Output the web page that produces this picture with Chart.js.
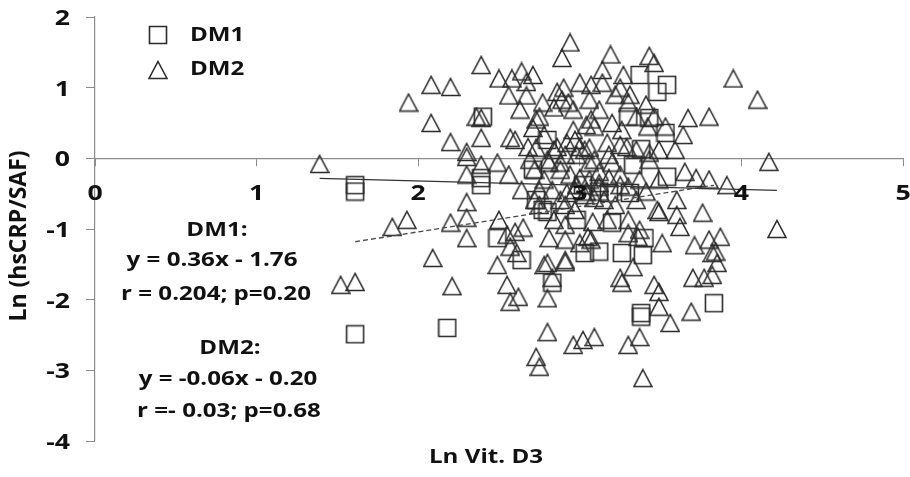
<!DOCTYPE html>
<html>
<head>
<meta charset="utf-8">
<script src="https://cdn.jsdelivr.net/npm/chart.js@4"></script>
<style>
html, body { margin: 0; padding: 0; background: #fff; }
#wrap { width: 910px; height: 477px; }
</style>
</head>
<body>
<div id="wrap"><canvas id="scatterChart"></canvas></div>
<script>
// DM1 (squares)
const dm1X = [1.61, 1.61, 1.61, 2.18, 2.40, 2.39, 2.39, 2.73, 2.77, 2.80, 2.80, 2.71, 2.49, 2.64, 2.83, 3.37, 3.48, 3.54, 3.30, 3.43,
              3.53, 3.38, 3.33, 3.54, 3.31, 3.18, 3.12, 3.02, 2.98, 3.20, 3.40, 3.03, 3.12, 3.26, 3.39, 3.38, 3.38, 3.83];
const dm1Y = [-0.38, -0.47, -2.49, -2.40, 0.59, -0.28, -0.38, -0.59, -0.73, -0.76, 0.26, -0.16, -1.13, -1.44, -1.76, 1.18, 0.94, 1.04, 0.59, 0.57,
              0.36, 0.13, -0.09, -0.26, -0.49, -0.49, -0.47, -0.38, -0.87, -0.91, -1.13, -1.34, -1.32, -1.34, -1.37, -2.19, -2.24, -2.05];

// DM2 (triangles)
const dm2X = [1.39, 1.84, 1.93, 2.20, 2.09, 1.52, 1.61, 2.21, 1.94, 2.08, 2.20, 2.08, 2.20, 2.39, 2.50, 2.58, 2.64, 2.71, 2.67, 2.56,
              2.67, 2.94, 2.89, 2.77, 2.86, 2.90, 2.89, 2.93, 2.96, 2.84, 2.36, 2.39, 2.39, 2.57, 2.60, 2.73, 2.75, 2.71, 2.68, 2.73,
              2.86, 2.92, 2.96, 2.30, 3.19, 3.43, 3.46, 3.14, 3.00, 3.07, 3.14, 3.27, 3.25, 3.31, 3.30, 3.41, 3.07, 3.04, 3.09, 3.20,
              3.26, 3.35, 3.46, 3.42, 3.53, 3.64, 3.67, 3.80, 3.00, 3.06, 3.17, 3.25, 3.29, 3.35, 3.43, 3.18, 2.30, 2.39, 2.49, 2.30,
              2.56, 2.64, 2.72, 2.75, 2.88, 2.92, 2.30, 2.30, 2.30, 2.50, 2.55, 2.60, 2.65, 2.57, 2.61, 2.81, 2.91, 2.80, 2.91, 2.69,
              2.81, 2.88, 2.72, 2.75, 2.49, 3.20, 3.43, 3.06, 2.98, 3.65, 3.72, 3.80, 3.49, 3.30, 3.41, 3.12, 3.04, 2.98, 3.60, 3.49,
              3.60, 3.76, 3.62, 3.08, 3.17, 3.30, 3.37, 3.51, 3.71, 3.05, 3.07, 3.00, 3.30, 3.36, 3.82, 3.80, 2.55, 2.62, 2.57, 2.80,
              2.78, 2.91, 2.83, 2.80, 2.73, 2.75, 2.96, 3.02, 3.09, 3.30, 3.37, 3.39, 3.25, 3.26, 3.33, 3.46, 3.49, 3.49, 3.56, 3.69,
              3.70, 3.77, 3.82, 4.22, 3.87, 3.84, 3.85, 3.95, 4.10, 4.17, 3.91, 3.48, 2.97, 3.03, 3.09, 2.88, 2.94, 3.00, 3.06, 3.12,
              3.18, 3.25, 2.97, 3.03, 3.09, 3.15, 3.22, 2.91, 2.97, 2.84, 2.91, 2.78, 2.83, 3.12, 3.25, 3.37, 3.35, 2.84, 2.91, 2.80,
              2.78, 2.63, 3.12, 3.22, 3.49, 3.59, 3.06];
const dm2Y = [-0.08, -0.97, -0.87, -0.91, -1.41, -1.79, -1.75, -1.81, 0.79, 1.04, 1.01, 0.50, 0.23, 1.32, 1.13, 1.13, 1.23, 1.18, 1.08, 0.89,
              0.89, 1.64, 1.42, 0.79, 0.94, 1.00, 0.83, 0.79, 0.69, 0.72, 0.59, 0.57, 0.29, 0.29, 0.26, 0.55, 0.59, 0.43, 0.16, 0.15,
              0.16, 0.22, 0.40, 0.09, 1.47, 1.45, 1.35, 1.25, 1.07, 1.04, 1.07, 1.18, 1.00, 0.90, 0.79, 0.76, 0.55, 0.47, 0.45, 0.50,
              0.40, 0.59, 0.59, 0.45, 0.45, 0.33, 0.57, 0.59, 0.16, 0.15, 0.22, 0.19, 0.16, 0.12, 0.08, 0.05, 0.02, -0.09, -0.06, -0.23,
              -0.23, -0.45, -0.59, -0.66, -0.59, -0.49, -0.62, -0.84, -1.13, -0.87, -1.08, -1.04, -0.98, -1.25, -1.34, -1.13, -1.15, -1.48, -1.44, -0.02,
              -0.06, -0.06, -0.16, -0.45, -1.51, -0.06, -0.02, -0.06, 0.05, -0.19, -0.28, -0.30, -0.30, -0.40, -0.47, -0.40, -0.47, -0.38, -0.59, -0.76,
              -0.80, -0.77, -0.97, -0.90, -0.87, -0.87, -1.01, -1.20, -1.23, -1.11, -1.15, -1.20, -1.06, -1.11, -1.34, -1.15, -1.79, -1.96, -2.03, -1.98,
              -1.51, -1.47, -1.69, -2.46, -2.81, -2.95, -2.64, -2.57, -2.53, -2.64, -2.53, -3.11, -1.69, -1.76, -1.54, -1.79, -1.89, -2.10, -2.33, -2.17,
              -1.69, -1.69, -1.65, -1.00, -1.11, -1.32, -1.48, 1.13, 0.83, -0.05, -0.38, -0.73, 0.26, 0.12, -0.02, -0.16, -0.23, -0.28, -0.30, -0.35,
              -0.28, -0.23, -0.45, -0.52, -0.56, -0.59, -0.66, -0.66, -0.73, -0.87, -0.94, -0.30, -0.45, -0.19, -0.38, -0.30, -0.59, 0.12, 0.05, -0.02,
              0.33, 0.69, 0.69, 0.90, 0.12, 0.12, 0.83];

// regression lines: [slope, intercept]
const dm1Fit = [0.36, -1.76];
const dm2Fit = [-0.06, -0.20];

const seriesNames = ['DM1', 'DM2'];
const statLines = ['DM1:', 'y = 0.36x - 1.76', 'r = 0.204; p=0.20', 'DM2:', 'y = -0.06x - 0.20', 'r =- 0.03; p=0.68'];
const xTitle = 'Ln Vit. D3';
const yTitle = 'Ln (hsCRP/SAF)';

const FONT = '"Open Sans", Lato, sans-serif';
const INK = '#2b2b2b';
const WIDEN = 1.27;   // text is drawn a bit wider than the font's natural width

function makeMarker(shape) {
    const c = document.createElement('canvas');
    c.width = 20;
    c.height = 20;
    const g = c.getContext('2d');
    g.strokeStyle = INK;
    g.lineWidth = 1.6;
    g.beginPath();
    if (shape === 'tri') {
        g.moveTo(10, 1.5);
        g.lineTo(19, 18.5);
        g.lineTo(1, 18.5);
        g.closePath();
    } else {
        g.rect(1.5, 1.5, 17, 17);
    }
    g.stroke();
    return c;
}
const squareMark = makeMarker('rect');
const triMark = makeMarker('tri');

function toPoints(xs, ys) {
    return xs.map((x, i) => ({ x: x, y: ys[i] }));
}

function fitLine(xs, fit) {
    const lo = Math.min(...xs), hi = Math.max(...xs);
    return [{ x: lo, y: fit[0] * lo + fit[1] }, { x: hi, y: fit[0] * hi + fit[1] }];
}

function wideText(ctx, text, x, y, align) {
    ctx.save();
    ctx.translate(x, y);
    ctx.scale(WIDEN, 1);
    ctx.textAlign = align;
    ctx.fillText(text, 0, 0);
    ctx.restore();
}

// tick labels, legend, equations and axis titles
const textPlugin = {
    id: 'chartText',
    afterDraw(chart) {
        const ctx = chart.ctx;
        const sx = chart.scales.x, sy = chart.scales.y;
        ctx.save();
        ctx.fillStyle = '#111';
        ctx.textBaseline = 'middle';

        ctx.font = 'bold 21px ' + FONT;
        const xLabelY = sy.getPixelForValue(0) + 36;
        sx.ticks.forEach(t => wideText(ctx, String(t.value), sx.getPixelForValue(t.value), xLabelY, 'center'));
        sy.ticks.forEach(t => wideText(ctx, String(t.value), sy.left + 70, sy.getPixelForValue(t.value) + 2, 'right'));

        ctx.font = 'bold 19px ' + FONT;
        ctx.drawImage(squareMark, 148, 25);
        wideText(ctx, seriesNames[0], 190, 36, 'left');
        ctx.drawImage(triMark, 148, 60);
        wideText(ctx, seriesNames[1], 190, 70, 'left');

        const pos = [[217, 231], [212, 261], [216, 295], [230, 349], [228, 380], [229, 412]];
        statLines.forEach((t, i) => wideText(ctx, t, pos[i][0], pos[i][1], 'center'));

        wideText(ctx, xTitle, 486, 458, 'center');

        ctx.font = 'bold 23px ' + FONT;
        ctx.translate(19, 236);
        ctx.rotate(-Math.PI / 2);
        ctx.textAlign = 'center';
        ctx.fillText(yTitle, 0, 0);
        ctx.restore();
    }
};

new Chart(document.getElementById('scatterChart'), {
    type: 'scatter',
    data: {
        datasets: [
            {
                label: 'DM2 fit',
                data: fitLine(dm2X, dm2Fit),
                showLine: true,
                borderColor: '#333',
                borderWidth: 1.2,
                pointRadius: 0
            },
            {
                label: 'DM1 fit',
                data: fitLine(dm1X, dm1Fit),
                showLine: true,
                borderColor: '#4a4a4a',
                borderWidth: 1.3,
                borderDash: [5, 3],
                pointRadius: 0
            },
            {
                label: seriesNames[1],
                data: toPoints(dm2X, dm2Y),
                pointStyle: triMark
            },
            {
                label: seriesNames[0],
                data: toPoints(dm1X, dm1Y),
                pointStyle: squareMark
            }
        ]
    },
    options: {
        responsive: true,
        maintainAspectRatio: false,
        animation: false,
        events: [],
        layout: { padding: { top: 17, right: 7, bottom: 36, left: 0 } },
        plugins: {
            legend: { display: false },
            tooltip: { enabled: false }
        },
        scales: {
            x: {
                type: 'linear',
                position: { y: 0 },
                min: 0,
                max: 5,
                afterFit: s => { s.height = 0; s.paddingLeft = 0; s.paddingRight = 0; },
                border: { color: '#8c8c8c', width: 1.2 },
                grid: { drawOnChartArea: false, drawTicks: true, tickLength: 7, color: '#8c8c8c' },
                ticks: { stepSize: 1, display: false }
            },
            y: {
                type: 'linear',
                min: -4,
                max: 2,
                afterFit: s => { s.width = 95; s.paddingTop = 0; s.paddingBottom = 0; },
                border: { color: '#8c8c8c', width: 1.2 },
                grid: { drawOnChartArea: false, drawTicks: true, tickLength: 9, color: '#8c8c8c' },
                ticks: { stepSize: 1, display: false }
            }
        }
    },
    plugins: [textPlugin]
});
</script>
</body>
</html>
